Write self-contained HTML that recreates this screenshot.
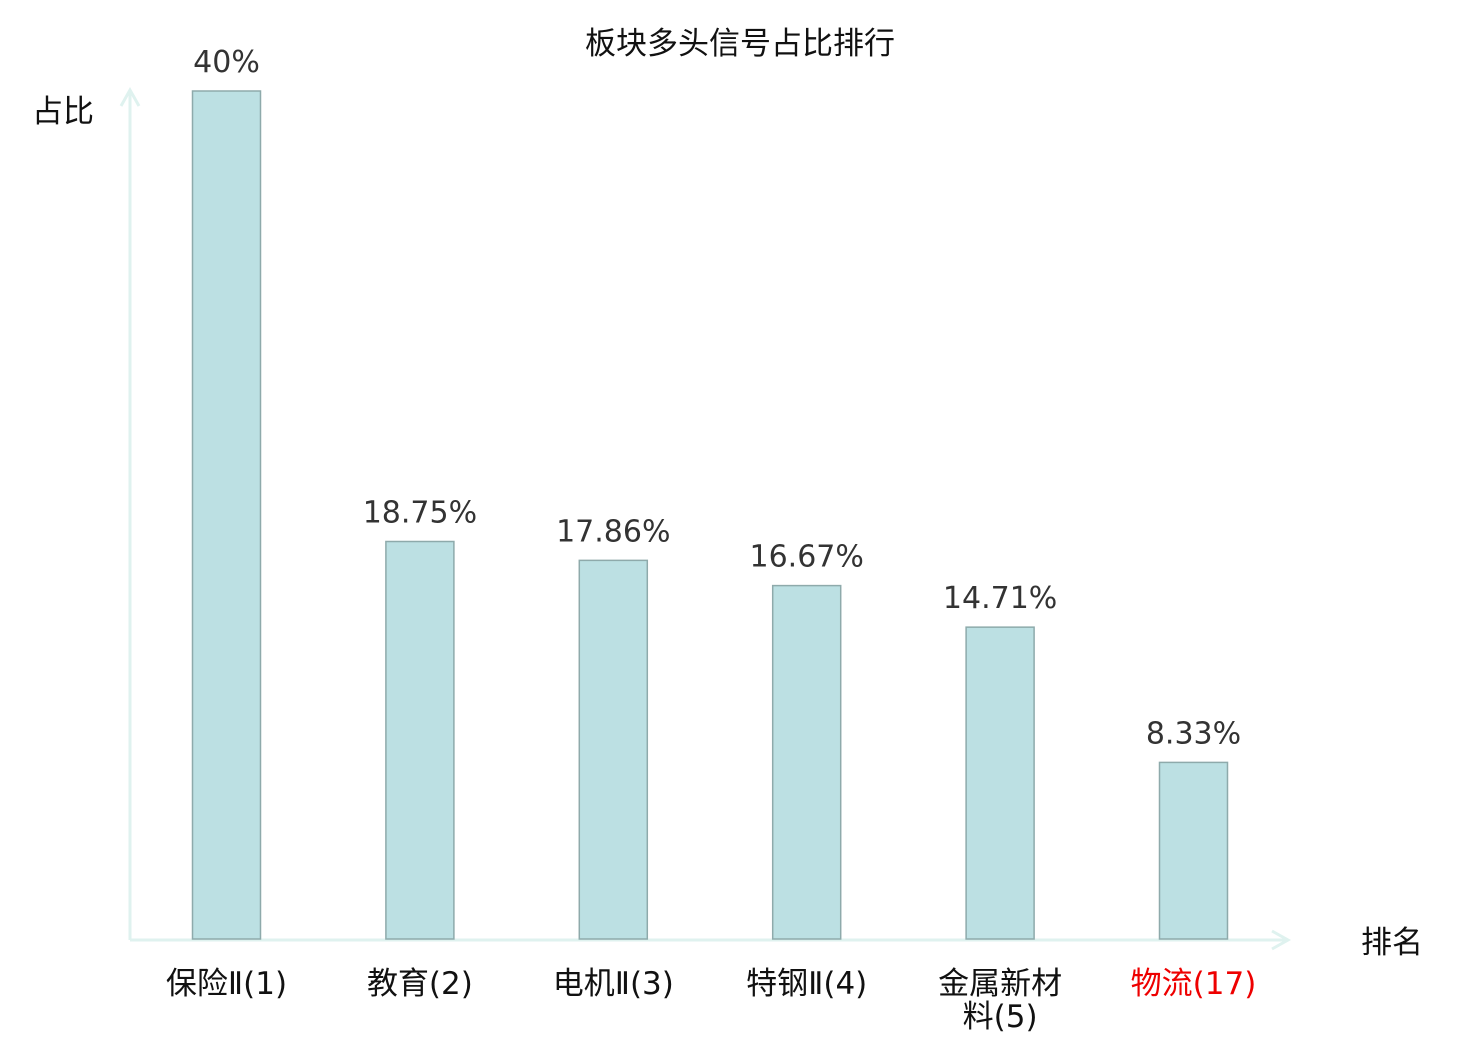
<!DOCTYPE html>
<html><head><meta charset="utf-8"><style>
html,body{margin:0;padding:0;background:#fff;}
svg text{font-family:"DejaVu Sans","Liberation Sans","Noto Sans CJK SC",sans-serif;}
</style></head><body>
<svg id="chart" width="1480" height="1040" xmlns="http://www.w3.org/2000/svg">
<text x="740" y="54" font-size="31" text-anchor="middle" fill="#111">板块多头信号占比排行</text>
<text x="63" y="122" font-size="31" text-anchor="middle" fill="#111">占比</text>
<text x="1392" y="953" font-size="31" text-anchor="middle" fill="#111">排名</text>
<g stroke="#dff2ef" stroke-width="3" fill="none">
<line x1="130" y1="940" x2="130" y2="90"/>
<polyline points="121,106 130,90 139,106"/>
<line x1="130" y1="940" x2="1288" y2="940"/>
<polyline points="1272,931 1288,940 1272,949"/>
</g>
<g id="bars"></g>
</svg>
<script>
const categories=["保险Ⅱ(1)","教育(2)","电机Ⅱ(3)","特钢Ⅱ(4)","金属新材料(5)","物流(17)"];
const values=[40,18.75,17.86,16.67,14.71,8.33];
const valueLabels=["40%","18.75%","17.86%","16.67%","14.71%","8.33%"];
const labelColors=["#111","#111","#111","#111","#111","#e00"];
const ns="http://www.w3.org/2000/svg";
const g=document.getElementById('bars');
function xScale(i){return 226.5+i*193.4;}
function yScale(v){return 939-v*21.2;}
categories.forEach((c,i)=>{
  const cx=xScale(i),y=yScale(values[i]);
  const r=document.createElementNS(ns,'rect');
  
  
  r.setAttribute('x',cx-34);r.setAttribute('y',y);r.setAttribute('width',68);r.setAttribute('height',939-y);
  r.setAttribute('fill','#bce0e3');r.setAttribute('stroke','#8eaaab');r.setAttribute('stroke-width','1.5');
  g.appendChild(r);
  const t=document.createElementNS(ns,'text');
  
  
  t.setAttribute('x',cx);t.setAttribute('y',y-19);t.setAttribute('font-size','30');t.setAttribute('text-anchor','middle');t.setAttribute('fill','#333');
  t.textContent=valueLabels[i];g.appendChild(t);
  const lines=c.length>7?[c.slice(0,4),c.slice(4)]:[c];
  lines.forEach((ln,k)=>{
    const l=document.createElementNS(ns,'text');
    
    
    l.setAttribute('x',cx);l.setAttribute('y',994+k*33);l.setAttribute('font-size','31');l.setAttribute('text-anchor','middle');l.setAttribute('fill',labelColors[i]);
    l.textContent=ln;g.appendChild(l);
  });
});
</script>
</body></html>
